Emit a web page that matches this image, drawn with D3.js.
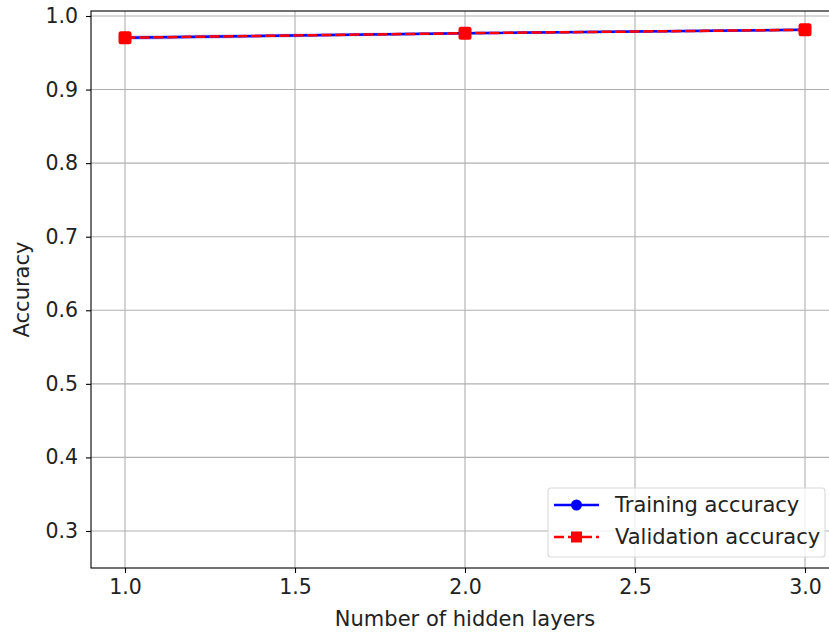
<!DOCTYPE html>
<head>
<meta charset="utf-8">
<script src="https://d3js.org/d3.v7.min.js"></script>
<style>
  body { margin: 0; background: #fff; }
  text { font-family: "DejaVu Sans", sans-serif; fill: #222; }
</style>
</head>
<body>
<svg id="chart" width="829" height="634"></svg>
<script>
  // data
  const layers = [1, 2, 3];
  const trainAcc = [0.9705, 0.9765, 0.9812];
  const trainStd = [0.003, 0.002, 0.002];
  const valAcc = [0.9705, 0.9766, 0.9812];
  const xTicks = [1.0, 1.5, 2.0, 2.5, 3.0];
  const yTicks = [0.3, 0.4, 0.5, 0.6, 0.7, 0.8, 0.9, 1.0];

  const svg = d3.select("#chart");
  const mLeft = 91, mRight = 839, mTop = 11, mBottom = 568;
  const fs = 20.5, lfs = 21;

  const x = d3.scaleLinear().domain([0.9, 3.1]).range([mLeft, mRight]);
  const y = d3.scaleLinear().domain([0.2497, 1.0068]).range([mBottom, mTop]);

  // grid
  const grid = svg.append("g").attr("stroke", "#b0b0b0").attr("stroke-width", 1.1);
  grid.selectAll("line.gx").data(xTicks).join("line")
    .attr("x1", d => x(d)).attr("x2", d => x(d))
    .attr("y1", mTop).attr("y2", mBottom);
  grid.selectAll("line.gy").data(yTicks).join("line")
    .attr("y1", d => y(d)).attr("y2", d => y(d))
    .attr("x1", mLeft).attr("x2", mRight);

  // std band
  svg.append("path")
    .datum(layers.map((l, i) => [l, trainAcc[i] - trainStd[i], trainAcc[i] + trainStd[i]]))
    .attr("fill", "blue").attr("fill-opacity", 0.2)
    .attr("d", d3.area().x(d => x(d[0])).y0(d => y(d[1])).y1(d => y(d[2])));

  // training line
  const line = d3.line().x(d => x(d[0])).y(d => y(d[1]));
  const train = layers.map((l, i) => [l, trainAcc[i]]);
  const val = layers.map((l, i) => [l, valAcc[i]]);
  svg.append("path").datum(train)
    .attr("fill", "none").attr("stroke", "blue").attr("stroke-width", 2.5)
    .attr("d", line);
  svg.selectAll("circle.tr").data(train).join("circle")
    .attr("cx", d => x(d[0])).attr("cy", d => y(d[1])).attr("r", 6)
    .attr("fill", "blue");

  // validation line
  svg.append("path").datum(val)
    .attr("fill", "none").attr("stroke", "red").attr("stroke-width", 2.5)
    .attr("stroke-dasharray", "10,4")
    .attr("d", line);
  svg.selectAll("rect.va").data(val).join("rect")
    .attr("x", d => x(d[0]) - 6.5).attr("y", d => y(d[1]) - 6.5)
    .attr("width", 13).attr("height", 13).attr("rx", 2.5)
    .attr("fill", "red");

  // axes
  const xAxis = svg.append("g").attr("transform", `translate(0,${mBottom})`)
    .call(d3.axisBottom(x).tickValues(xTicks).tickFormat(d3.format(".1f")).tickSize(5).tickPadding(6));
  const yAxis = svg.append("g").attr("transform", `translate(${mLeft},0)`)
    .call(d3.axisLeft(y).tickValues(yTicks).tickFormat(d3.format(".1f")).tickSize(5).tickPadding(8));
  [xAxis, yAxis].forEach(a => {
    a.select(".domain").remove();
    a.selectAll(".tick line").attr("stroke", "#000").attr("stroke-width", 1.1);
    a.selectAll(".tick text").attr("font-size", fs).attr("fill", "#222")
      .attr("font-family", "DejaVu Sans, sans-serif");
  });

  // spines
  svg.append("rect")
    .attr("x", mLeft).attr("y", mTop).attr("width", mRight - mLeft).attr("height", mBottom - mTop)
    .attr("fill", "none").attr("stroke", "#000").attr("stroke-width", 1.1);

  // axis labels
  svg.append("text").attr("x", 465).attr("y", 626)
    .attr("text-anchor", "middle").attr("font-size", lfs)
    .text("Number of hidden layers");
  svg.append("text").attr("transform", `translate(29,${(mTop + mBottom) / 2}) rotate(-90)`)
    .attr("text-anchor", "middle").attr("font-size", lfs)
    .text("Accuracy");

  // legend
  const lg = svg.append("g").attr("transform", "translate(548,488)");
  lg.append("rect").attr("width", 277).attr("height", 69).attr("rx", 3)
    .attr("fill", "#fff").attr("fill-opacity", 0.8)
    .attr("stroke", "#d9d9d9").attr("stroke-width", 1.1);
  const items = [
    { label: "Training accuracy", color: "blue", dash: null, shape: "circle" },
    { label: "Validation accuracy", color: "red", dash: "10,4", shape: "square" }
  ];
  items.forEach((it, i) => {
    const cy = 17 + i * 32;
    lg.append("line").attr("x1", 6).attr("x2", 51).attr("y1", cy).attr("y2", cy)
      .attr("stroke", it.color).attr("stroke-width", 2.5)
      .attr("stroke-dasharray", it.dash);
    if (it.shape === "circle") {
      lg.append("circle").attr("cx", 28.5).attr("cy", cy).attr("r", 5.5).attr("fill", it.color);
    } else {
      lg.append("rect").attr("x", 23).attr("y", cy - 5.5).attr("width", 11).attr("height", 11)
        .attr("fill", it.color);
    }
    lg.append("text").attr("x", 67).attr("y", cy + 7).attr("font-size", lfs)
      .text(it.label);
  });
</script>
</body>
